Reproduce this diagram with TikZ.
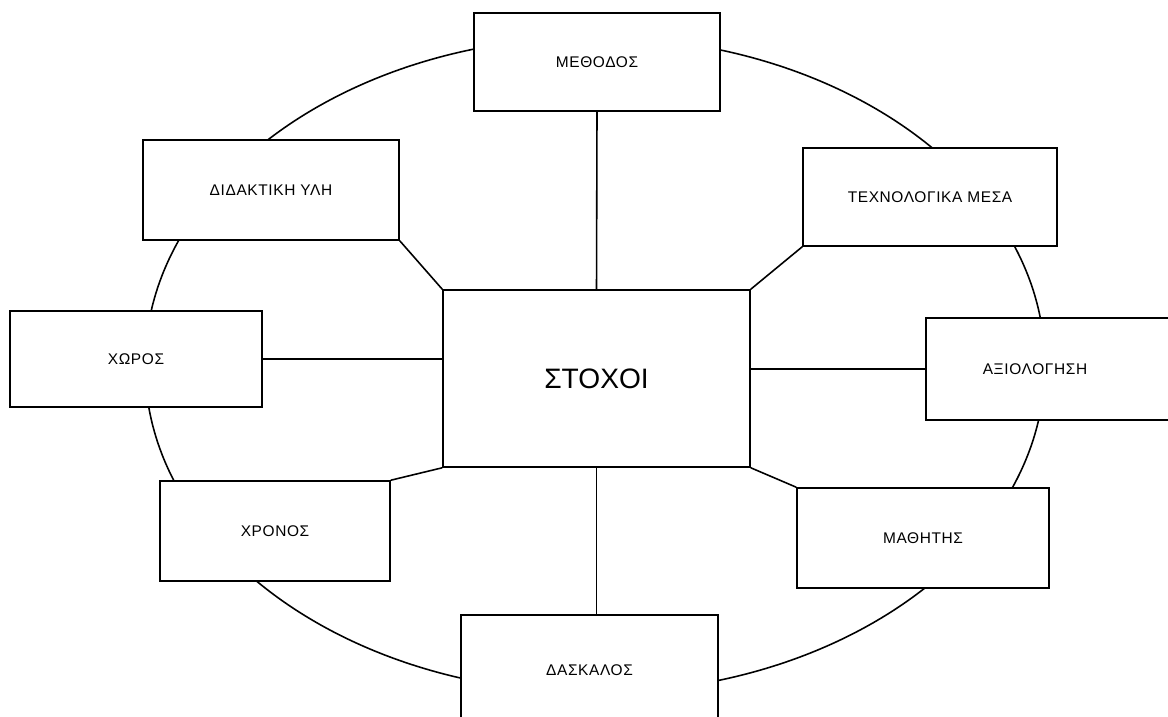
\documentclass[tikz,border=0pt]{standalone}
\usepackage{fontspec}
\setmainfont{Liberation Sans}
\newfontfamily\boxfont[LetterSpace=4]{Liberation Sans}
\usetikzlibrary{calc}
\tikzset{
	field/.style={draw, fill=white, line width=0.9pt, inner sep=0pt, font=\boxfont\fontsize{8.8}{10}\selectfont},
	link/.style={line width=0.9pt},
}

\begin{document}
\begin{tikzpicture}[x=0.02cm, y=-0.02cm]
		%%%%% START %%%%%
		\useasboundingbox (0,0) rectangle (1168,716);
		
		\draw[link] (595,365) ellipse [x radius=9cm, y radius=6.56cm];
		
		\node[field, minimum width=6.14cm, minimum height=3.54cm, font=\fontsize{16}{18}\selectfont] (stoxoi) at (596.5,378.5) {ΣΤΟΧΟΙ};
		
		\node[field, minimum width=4.92cm, minimum height=1.96cm] (methodos) at (597,62) {ΜΕΘΟΔΟΣ};
		\node[field, minimum width=5.12cm, minimum height=2.0cm] (didaktiki) at (271,190) {ΔΙΔΑΚΤΙΚΗ ΥΛΗ};
		\node[field, minimum width=5.08cm, minimum height=1.96cm] (texno) at (930,197) {ΤΕΧΝΟΛΟΓΙΚΑ ΜΕΣΑ};
		\node[field, minimum width=5.04cm, minimum height=1.92cm] (xoros) at (136,359) {ΧΩΡΟΣ};
		\node[field, minimum width=4.98cm, minimum height=2.04cm] (aksio) at (1050.5,369) {};
		\node[font=\boxfont\fontsize{8.8}{10}\selectfont, inner sep=0pt] (aksio-t) at (1035,369) {ΑΞΙΟΛΟΓΗΣΗ};
		\node[field, minimum width=4.6cm, minimum height=2.0cm] (xronos) at (275,531) {ΧΡΟΝΟΣ};
		\node[field, minimum width=5.04cm, minimum height=2.0cm] (mathitis) at (923,538) {ΜΑΘΗΤΗΣ};
		\node[field, minimum width=5.14cm, minimum height=2.2cm] (daskalos) at (589.5,670) {ΔΑΣΚΑΛΟΣ};
		
		% spokes
		\draw[link] (stoxoi.north) -- (methodos.south);
		\draw[link] (stoxoi.south) -- (stoxoi.south |- daskalos.north);
		\draw[link] (xoros.east) -- (xoros.east -| stoxoi.west);
		\draw[link] (aksio.west) -- (aksio.west -| stoxoi.east);
		\draw[link] (stoxoi.north west) -- (didaktiki.south east);
		\draw[link] (stoxoi.north east) -- (texno.south west);
		\draw[link] (stoxoi.south west) -- (xronos.north east);
		\draw[link] (stoxoi.south east) -- (mathitis.north west);
		%%%%% END %%%%%
\end{tikzpicture}
\end{document}
